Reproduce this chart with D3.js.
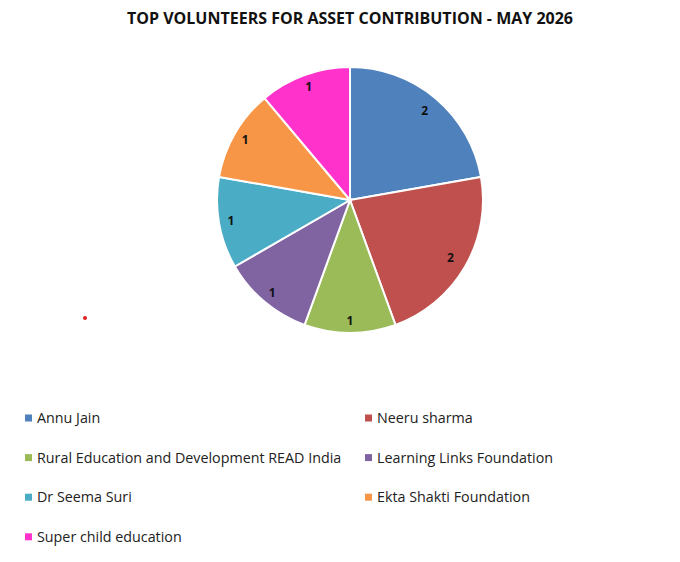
<!DOCTYPE html>
<html>
<head>
<meta charset="utf-8">
<script src="https://cdn.jsdelivr.net/npm/d3@7"></script>
<style>
  body { margin: 0; background: #fff; }
  svg { display: block; }
</style>
</head>
<body>
<svg id="chart" width="680" height="562"></svg>
<script>
const names = [
  "Annu Jain",
  "Neeru sharma",
  "Rural Education and Development READ India",
  "Learning Links Foundation",
  "Dr Seema Suri",
  "Ekta Shakti Foundation",
  "Super child education",
];
const counts = [2, 2, 1, 1, 1, 1, 1];
const colors = ["#4f81bd", "#c0504d", "#9bbb59", "#8064a2", "#4bacc6", "#f79646", "#ff33cc"];

const cfg = {
  width: 680,
  height: 562,
  cx: 350,
  cy: 200,
  r: 133,
  fontFamily: "'Open Sans', 'Liberation Sans', sans-serif",
  // legend
  legendX: [25, 365],
  legendY0: 418,
  legendGap: 39.6,
  swatch: 7,
};

const svg = d3.select("#chart");

svg.append("text")
  .attr("x", 350)
  .attr("y", 24)
  .attr("text-anchor", "middle")
  .attr("font-family", cfg.fontFamily)
  .attr("font-weight", "bold")
  .attr("font-size", 16)
  .attr("fill", "#111")
  .text("TOP VOLUNTEERS FOR ASSET CONTRIBUTION - MAY 2026");

const data = names.map((n, i) => ({ name: n, value: counts[i], color: colors[i] }));
const pie = d3.pie().value((d) => d.value).sort(null);
const arcs = pie(data);
const arc = d3.arc().innerRadius(0).outerRadius(cfg.r);

const pieG = svg.append("g").attr("transform", `translate(${cfg.cx},${cfg.cy})`);
pieG.selectAll("path")
  .data(arcs)
  .join("path")
  .attr("d", arc)
  .attr("fill", (d) => d.data.color)
  .attr("stroke", "#fff")
  .attr("stroke-width", 2);

pieG.selectAll("text")
  .data(arcs)
  .join("text")
  .attr("transform", (d) => {
    const a = (d.startAngle + d.endAngle) / 2;
    const rr = d.data.value > 1 ? 116 : 121;
    return `translate(${Math.sin(a) * rr},${-Math.cos(a) * rr})`;
  })
  .attr("text-anchor", "middle")
  .attr("dy", "0.35em")
  .attr("font-family", cfg.fontFamily)
  .attr("font-weight", "bold")
  .attr("font-size", 12)
  .attr("fill", "#111")
  .text((d) => d.data.value);

// stray dot in the original picture
svg.append("circle")
  .attr("cx", 85)
  .attr("cy", 318)
  .attr("r", 2)
  .attr("fill", "#e02020");

const legendG = svg.append("g");
const items = legendG.selectAll("g")
  .data(data)
  .join("g")
  .attr("transform", (d, i) =>
    `translate(${cfg.legendX[i % 2]},${cfg.legendY0 + Math.floor(i / 2) * cfg.legendGap})`);
items.append("rect")
  .attr("x", 0)
  .attr("y", -cfg.swatch / 2)
  .attr("width", cfg.swatch)
  .attr("height", cfg.swatch)
  .attr("fill", (d) => d.color);
items.append("text")
  .attr("x", 12)
  .attr("dy", "0.35em")
  .attr("font-family", cfg.fontFamily)
  .attr("font-size", 14.3)
  .attr("fill", "#222")
  .text((d) => d.name);
</script>
</body>
</html>
